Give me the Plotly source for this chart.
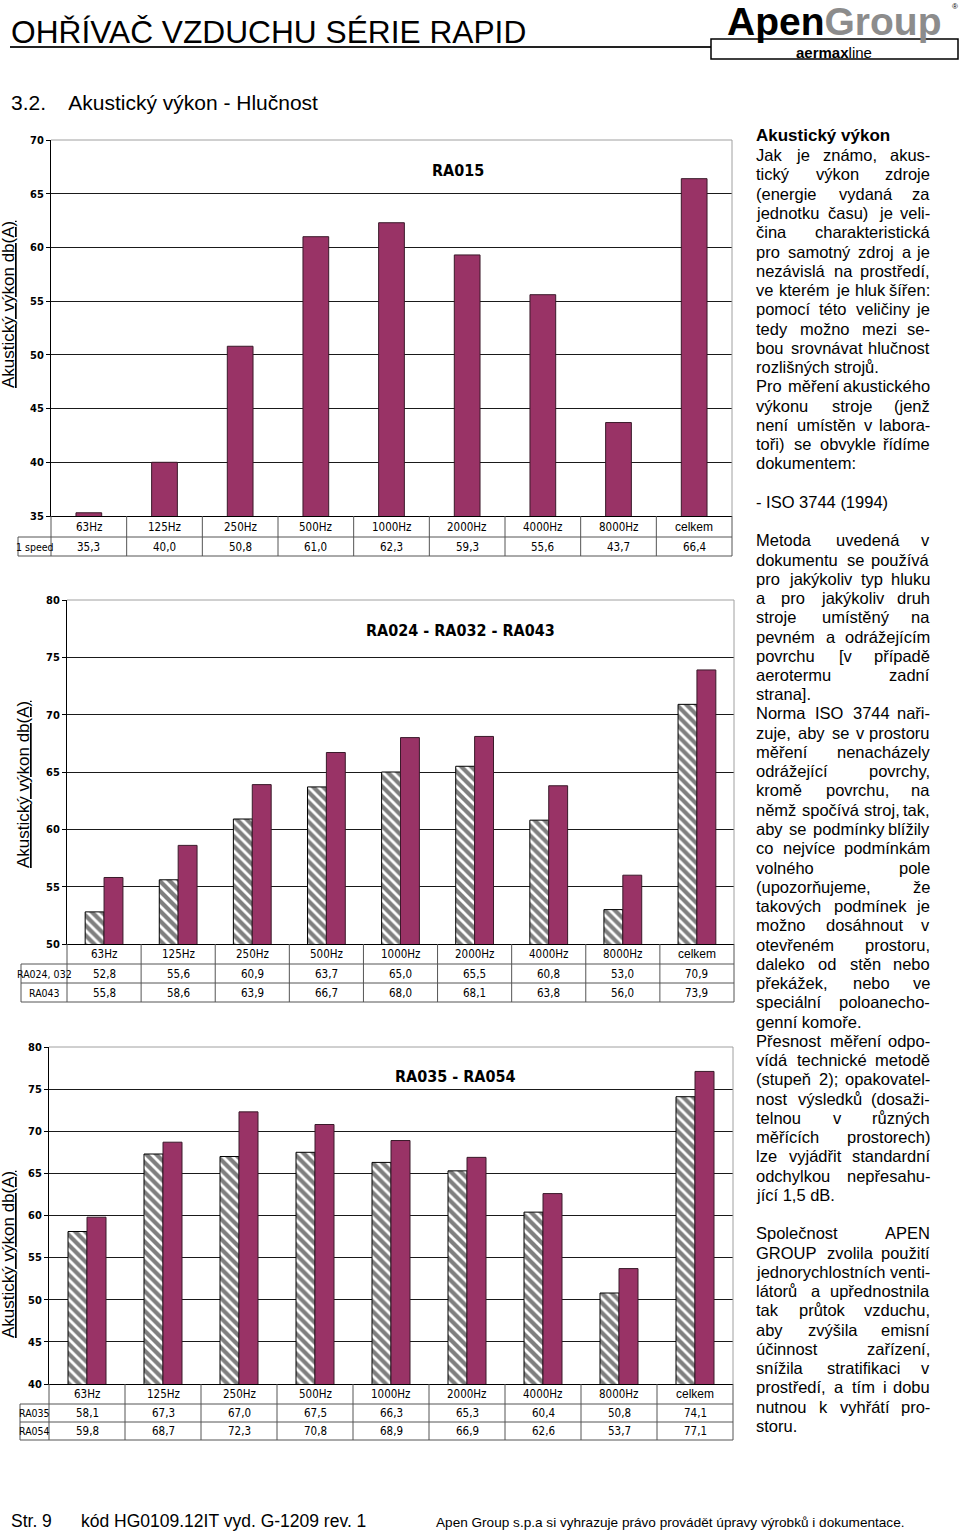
import unicodedata
import plotly.graph_objects as go

W, H = 960, 1531

# ---------------- data ----------------
categories = ['63Hz', '125Hz', '250Hz', '500Hz', '1000Hz', '2000Hz', '4000Hz', '8000Hz', 'celkem']
ra015_1speed = [35.3, 40.0, 50.8, 61.0, 62.3, 59.3, 55.6, 43.7, 66.4]
ra024_032 = [52.8, 55.6, 60.9, 63.7, 65.0, 65.5, 60.8, 53.0, 70.9]
ra043 = [55.8, 58.6, 63.9, 66.7, 68.0, 68.1, 63.8, 56.0, 73.9]
ra035 = [58.1, 67.3, 67.0, 67.5, 66.3, 65.3, 60.4, 50.8, 74.1]
ra054 = [59.8, 68.7, 72.3, 70.8, 68.9, 66.9, 62.6, 53.7, 77.1]

y_title = 'Akustický výkon db(A)'

text_lines = [
    ('Akustický výkon', 'h'),
    ('Jak je známo, akus-', 'j'), ('tický výkon zdroje', 'j'), ('(energie vydaná za', 'j'),
    ('jednotku času) je veli-', 'j'), ('čina charakteristická', 'j'), ('pro samotný zdroj a je', 'j'),
    ('nezávislá na prostředí,', 'j'), ('ve kterém je hluk šířen:', 'j'), ('pomocí této veličiny je', 'j'),
    ('tedy možno mezi se-', 'j'), ('bou srovnávat hlučnost', 'j'), ('rozlišných strojů.', 'l'),
    ('Pro měření akustického', 'j'), ('výkonu stroje (jenž', 'j'), ('není umístěn v labora-', 'j'),
    ('toři) se obvykle řídíme', 'j'), ('dokumentem:', 'l'),
    ('', 'l'),
    ('- ISO 3744 (1994)', 'l'),
    ('', 'l'),
    ('Metoda uvedená v', 'j'), ('dokumentu se používá', 'j'), ('pro jakýkoliv typ hluku', 'j'),
    ('a pro jakýkoliv druh', 'j'), ('stroje umístěný na', 'j'), ('pevném a odrážejícím', 'j'),
    ('povrchu [v případě', 'j'), ('aerotermu zadní', 'j'), ('strana].', 'l'),
    ('Norma ISO 3744 naři-', 'j'), ('zuje, aby se v prostoru', 'j'), ('měření nenacházely', 'j'),
    ('odrážející povrchy,', 'j'), ('kromě povrchu, na', 'j'), ('němž spočívá stroj, tak,', 'j'),
    ('aby se podmínky blížily', 'j'), ('co nejvíce podmínkám', 'j'), ('volného pole', 'j'),
    ('(upozorňujeme, že', 'j'), ('takových podmínek je', 'j'), ('možno dosáhnout v', 'j'),
    ('otevřeném prostoru,', 'j'), ('daleko od stěn nebo', 'j'), ('překážek, nebo ve', 'j'),
    ('speciální poloanecho-', 'j'), ('genní komoře.', 'l'),
    ('Přesnost měření odpo-', 'j'), ('vídá technické metodě', 'j'), ('(stupeň 2); opakovatel-', 'j'),
    ('nost výsledků (dosaži-', 'j'), ('telnou v různých', 'j'), ('měřících prostorech)', 'j'),
    ('lze vyjádřit standardní', 'j'), ('odchylkou nepřesahu-', 'j'), ('jící 1,5 dB.', 'l'),
    ('', 'l'),
    ('Společnost APEN', 'j'), ('GROUP zvolila použití', 'j'), ('jednorychlostních venti-', 'j'),
    ('látorů a upřednostnila', 'j'), ('tak průtok vzduchu,', 'j'), ('aby zvýšila emisní', 'j'),
    ('účinnost zařízení,', 'j'), ('snížila stratifikaci v', 'j'), ('prostředí, a tím i dobu', 'j'),
    ('nutnou k vyhřátí pro-', 'j'), ('storu.', 'l'),
]

# ---------------- styling ----------------
ARIAL = 'Liberation Sans, Arial, sans-serif'
NARROW = 'Liberation Sans Narrow, Arial Narrow, DejaVu Sans Condensed, sans-serif'
PLUM = '#993366'


def px(x):
    return x / W


def py(y):
    return 1 - y / H


def fmt(v):
    return f'{v:.1f}'.replace('.', ',')


fig = go.Figure()
shapes = []
annotations = []


def line(x0, y0, x1, y1, color='#555555', width=1, layer='above'):
    shapes.append(dict(type='line', xref='paper', yref='paper', x0=px(x0), y0=py(y0),
                       x1=px(x1), y1=py(y1), line=dict(color=color, width=width), layer=layer))


def text(x, y, s, size=11, family=NARROW, color='black', xanchor='center', yanchor='middle',
         weight='normal', angle=0):
    annotations.append(dict(x=px(x), y=py(y), xref='paper', yref='paper', text=s, showarrow=False,
                            xanchor=xanchor, yanchor=yanchor, textangle=angle, borderpad=0,
                            font=dict(family=family, size=size, color=color, weight=weight)))


charts = [
    dict(ax='', x0=51, x1=732, ytop=140, ybot=516, rng=[35, 70], lab_left=18,
         rows=[516, 537, 556], row_labels=['1 speed'],
         series=[(ra015_1speed, 'solid')], width=0.34,
         title='RA015', tpos=(458, 170), ytx=8, yty=305),
    dict(ax='2', x0=67, x1=734, ytop=600, ybot=944, rng=[50, 80], lab_left=21,
         rows=[944, 964, 983, 1002], row_labels=['RA024, 032', 'RA043'],
         series=[(ra024_032, 'hatch'), (ra043, 'solid')], width=0.255,
         title='RA024 - RA032 - RA043', tpos=(460, 630), ytx=23, yty=785),
    dict(ax='3', x0=49, x1=733, ytop=1047, ybot=1384, rng=[40, 80], lab_left=20,
         rows=[1384, 1404, 1422, 1440], row_labels=['RA035', 'RA054'],
         series=[(ra035, 'hatch'), (ra054, 'solid')], width=0.25,
         title='RA035 - RA054', tpos=(455, 1076), ytx=8, yty=1255),
]

for c in charts:
    xa = 'x' + c['ax']
    ya = 'y' + c['ax']
    n = len(c['series'])
    w = c['width']
    for k, (vals, style) in enumerate(c['series']):
        off = -n * w / 2 + k * w
        if style == 'hatch':
            marker = dict(color='white', line=dict(color='black', width=1),
                          pattern=dict(shape='\\', fgcolor='black', bgcolor='white',
                                       size=7, solidity=0.6))
        else:
            marker = dict(color=PLUM, line=dict(color='#3a1a2a', width=1))
        fig.add_trace(go.Bar(x=categories, y=vals, xaxis=xa, yaxis=ya, width=w, offset=off,
                             marker=marker, showlegend=False, hoverinfo='skip'))
    xkey = 'xaxis' + c['ax']
    ykey = 'yaxis' + c['ax']
    fig.update_layout(**{
        xkey: dict(domain=[px(c['x0']), px(c['x1'])], anchor=ya, showgrid=False,
                   showticklabels=False, ticks='', showline=True, linecolor='black',
                   linewidth=1, range=[-0.5, 8.5], fixedrange=True),
        ykey: dict(domain=[py(c['ybot']), py(c['ytop'])], anchor=xa, range=c['rng'], dtick=5,
                   showgrid=True, gridcolor='#1a1a1a', gridwidth=1, zeroline=False,
                   showline=True, linecolor='black', linewidth=1, ticks='outside',
                   ticklen=4, tickcolor='black', fixedrange=True,
                   tickfont=dict(family=NARROW, size=11, color='black', weight='bold')),
    })
    # gray frame top/right
    line(c['x0'], c['ytop'], c['x1'], c['ytop'], color='#a0a0a0')
    line(c['x1'], c['ytop'], c['x1'], c['ybot'], color='#a0a0a0')
    # chart title
    text(c['tpos'][0], c['tpos'][1], c['title'], size=16, family=NARROW, weight='bold')
    # y title
    text(c['ytx'], c['yty'], '<u>' + y_title + '</u>', size=17, family=ARIAL, angle=-90)
    # table
    rows = c['rows']
    colw = (c['x1'] - c['x0']) / len(categories)
    for i in range(len(categories) + 1):
        xx = c['x0'] + i * colw
        line(xx, rows[0], xx, rows[-1])
    line(c['lab_left'], rows[1], c['lab_left'], rows[-1])
    for r in rows[1:]:
        line(c['lab_left'], r, c['x1'], r)
    for i, cat in enumerate(categories):
        cx = c['x0'] + (i + 0.5) * colw
        if cat == 'celkem':
            text(cx, (rows[0] + rows[1]) / 2, cat, size=12, family=ARIAL)
        else:
            text(cx, (rows[0] + rows[1]) / 2, cat, size=11.5)
    for k, (vals, _) in enumerate(c['series']):
        ry = (rows[k + 1] + rows[k + 2]) / 2
        text((c['lab_left'] + c['x0']) / 2, ry, c['row_labels'][k], size=10.5)
        for i, v in enumerate(vals):
            cx = c['x0'] + (i + 0.5) * colw
            text(cx, ry, fmt(v), size=11.5)

# ---------------- header ----------------
text(10, 32, 'OHŘÍVAČ VZDUCHU SÉRIE RAPID', size=31.7, family=ARIAL, xanchor='left')
line(10, 47, 711, 47, color='#222222', width=2)
text(834, 22, '<b>Apen</b><b><span style="color:#8c8c8c">Group</span></b>', size=39, family=ARIAL)
text(955, 7, '®', size=8, family=ARIAL)
shapes.append(dict(type='rect', xref='paper', yref='paper', x0=px(711), x1=px(958), y0=py(59), y1=py(39),
                   line=dict(color='black', width=1.5), fillcolor='white', layer='above'))
text(834, 52.5, '<b>aermax</b>line', size=15, family=ARIAL)
text(10, 102, '3.2.    Akustický výkon - Hlučnost', size=21, family=ARIAL, xanchor='left')

# ---------------- right text column ----------------
CW = {' ': 278, 'a': 556, 'b': 556, 'c': 500, 'd': 556, 'e': 556, 'f': 278, 'g': 556, 'h': 556,
      'i': 222, 'j': 222, 'k': 500, 'l': 222, 'm': 833, 'n': 556, 'o': 556, 'p': 556, 'q': 556,
      'r': 333, 's': 500, 't': 278, 'u': 556, 'v': 500, 'w': 722, 'x': 500, 'y': 500, 'z': 500,
      'A': 667, 'B': 667, 'C': 722, 'D': 722, 'E': 667, 'F': 611, 'G': 778, 'H': 722, 'I': 278,
      'J': 500, 'K': 667, 'L': 556, 'M': 833, 'N': 722, 'O': 778, 'P': 667, 'Q': 778, 'R': 722,
      'S': 667, 'T': 611, 'U': 722, 'V': 667, 'W': 944, 'X': 667, 'Y': 667, 'Z': 611,
      ',': 278, '.': 278, ':': 278, ';': 278, '-': 333, '(': 333, ')': 333, '[': 278, ']': 278}


def char_w(ch):
    if ch in CW:
        return CW[ch]
    if ch.isdigit():
        return 556
    base = unicodedata.normalize('NFD', ch)[0]
    if base == 'i':
        return 278
    return CW.get(base, 556)


FS = 16.5
LEFT, RIGHT = 755, 931


def tw(s):
    return sum(char_w(ch) for ch in s) * FS / 1000


for idx, (s, mode) in enumerate(text_lines):
    yy = 136 + idx * 19.25
    if not s:
        continue
    if mode == 'h':
        text(LEFT, yy, '<b>' + s + '</b>', size=17, family=ARIAL, xanchor='left')
        continue
    words = s.split(' ')
    if mode == 'l' or len(words) == 1:
        text(LEFT, yy, s, size=FS, family=ARIAL, xanchor='left')
        continue
    total = sum(tw(wd) for wd in words)
    gap = (RIGHT - LEFT - total) / (len(words) - 1)
    xx = LEFT
    for k, wd in enumerate(words):
        if k == len(words) - 1:
            text(RIGHT, yy, wd, size=FS, family=ARIAL, xanchor='right')
        else:
            text(xx, yy, wd, size=FS, family=ARIAL, xanchor='left')
        xx += tw(wd) + gap

# ---------------- footer ----------------
text(10, 1521, 'Str. 9', size=17.5, family=ARIAL, xanchor='left')
text(80, 1521, 'kód HG0109.12IT vyd. G-1209 rev. 1', size=17.5, family=ARIAL, xanchor='left')
text(435, 1522, 'Apen Group s.p.a si vyhrazuje právo provádět úpravy výrobků i dokumentace.',
     size=13.6, family=ARIAL, xanchor='left')

fig.update_layout(
    width=W, height=H, margin=dict(l=0, r=0, t=0, b=0, autoexpand=False),
    paper_bgcolor='white', plot_bgcolor='white', barmode='overlay',
    shapes=shapes, annotations=annotations, showlegend=False,
)
post = (
    "document.documentElement.style.margin='0';"
    "document.body.style.margin='0';"
    "document.body.style.overflow='hidden';"
    "var gd=document.querySelector('.plotly-graph-div');"
    "gd.style.position='absolute';gd.style.left='0px';gd.style.top='0px';"
)
fig.write_html('out.html', config={'displayModeBar': False}, post_script=post)
